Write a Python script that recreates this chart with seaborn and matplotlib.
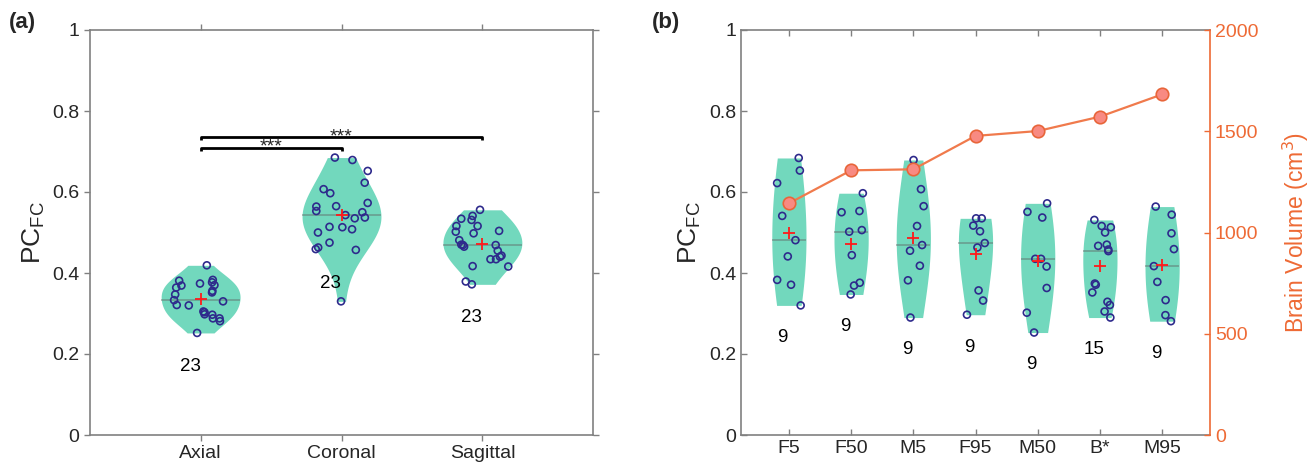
import numpy as np
import pandas as pd
import matplotlib
matplotlib.use("Agg")
import matplotlib.pyplot as plt
import seaborn as sns

# ---- data ----
views = ['Axial', 'Coronal', 'Sagittal']
axial = [0.419, 0.377, 0.374, 0.370, 0.364, 0.369, 0.381, 0.383, 0.356, 0.352, 0.347, 0.333,
         0.330, 0.321, 0.320, 0.305, 0.303, 0.298, 0.297, 0.288, 0.288, 0.281, 0.252]
coronal = [0.679, 0.685, 0.652, 0.623, 0.607, 0.597, 0.573, 0.564, 0.550, 0.565, 0.553, 0.535,
           0.537, 0.543, 0.514, 0.508, 0.513, 0.500, 0.475, 0.463, 0.459, 0.457, 0.330]
sagittal = [0.556, 0.531, 0.534, 0.541, 0.516, 0.516, 0.504, 0.502, 0.498, 0.470, 0.469, 0.481,
            0.469, 0.465, 0.455, 0.443, 0.440, 0.434, 0.434, 0.416, 0.417, 0.379, 0.372]
n_label_y_a = [0.17, 0.375, 0.29]

groups = ['F5', 'F50', 'M5', 'F95', 'M50', 'B*', 'M95']
f5 = [0.684, 0.653, 0.622, 0.541, 0.481, 0.441, 0.383, 0.371, 0.320]
f50 = [0.597, 0.553, 0.550, 0.502, 0.506, 0.444, 0.376, 0.369, 0.347]
m5 = [0.679, 0.607, 0.565, 0.516, 0.469, 0.455, 0.418, 0.382, 0.290]
f95 = [0.535, 0.535, 0.517, 0.503, 0.474, 0.463, 0.357, 0.332, 0.297]
m50 = [0.572, 0.551, 0.537, 0.435, 0.435, 0.416, 0.363, 0.302, 0.253]
bstar = [0.531, 0.516, 0.513, 0.500, 0.470, 0.467, 0.454, 0.458, 0.371, 0.374, 0.352,
         0.329, 0.321, 0.305, 0.290]
m95 = [0.564, 0.544, 0.498, 0.459, 0.417, 0.378, 0.333, 0.296, 0.281]
brain_volume = [1144, 1307, 1312, 1477, 1501, 1572, 1682]

df_a = pd.DataFrame({'view': np.repeat(views, [len(axial), len(coronal), len(sagittal)]),
                     'pc': axial + coronal + sagittal})
vals_b = [f5, f50, m5, f95, m50, bstar, m95]
df_b = pd.DataFrame({'group': np.repeat(groups, [len(v) for v in vals_b]),
                     'pc': sum(vals_b, [])})

# ---- style ----
sns.set_style('white')
plt.rcParams['font.family'] = ['Liberation Sans', 'DejaVu Sans']
teal = '#72d8bd'
navy = '#2e2a8c'
orange = '#ee6a35'
line_orange = '#f07a4c'
salmon = '#f88a82'
spine_gray = '#808080'
txt = '#262626'

fig = plt.figure(figsize=(13.16, 4.74), dpi=100)
ax_a = fig.add_axes([90 / 1316, 39 / 474, 503 / 1316, 405 / 474])
ax_b = fig.add_axes([741 / 1316, 39 / 474, 469 / 1316, 405 / 474])


def violin_panel(ax, df, xcol, order, width, bw):
    sns.violinplot(data=df, x=xcol, y='pc', order=order, cut=0, inner=None,
                   density_norm='width', width=width, color=teal, saturation=1,
                   linewidth=0, bw_adjust=bw, ax=ax)
    med = df.groupby(xcol)['pc'].median().reindex(order)
    for i, m in enumerate(med):
        ax.hlines(m, i - width / 2, i + width / 2, color='#606060', alpha=0.45, lw=1.3, zorder=3)
    n0 = len(ax.collections)
    sns.stripplot(data=df, x=xcol, y='pc', order=order, jitter=0.19, size=5,
                  color=navy, ax=ax, zorder=4)
    for c in ax.collections[n0:]:
        c.set_facecolor('none')
        c.set_edgecolor(navy)
        c.set_linewidth(1.2)
    sns.pointplot(data=df, x=xcol, y='pc', order=order, estimator='mean', errorbar=None,
                  markers='+', linestyles='none', color='#ff1a1a', markersize=9,
                  markeredgewidth=1.3, ax=ax, zorder=5)
    ax.set_xlabel('')
    ax.set_ylabel('PC$_{\\mathregular{FC}}$', fontsize=19, color=txt)
    ax.set_ylim(0, 1)
    ax.set_yticks(np.arange(0, 1.01, 0.2))
    ax.set_yticklabels(['0', '0.2', '0.4', '0.6', '0.8', '1'])
    for s in ax.spines.values():
        s.set_color(spine_gray)
        s.set_linewidth(1.2)
        s.set_visible(True)


# ---- panel (a) ----
violin_panel(ax_a, df_a, 'view', views, 0.56, 1.5)
ax_a.set_xlim(-0.785, 2.785)
ax_a.tick_params(direction='out', length=4, width=1, color=spine_gray, labelsize=14,
                 labelcolor=txt, top=True, right=True, bottom=True, left=True,
                 labeltop=False, labelright=False)
for i, v in enumerate([axial, coronal, sagittal]):
    ax_a.text(i - 0.075, n_label_y_a[i], str(len(v)), ha='center', va='center',
              fontsize=13.5, color='black')

# significance bars
for x2, y, sx in [(1, 0.709, 0.5), (2, 0.735, 1.0)]:
    ax_a.plot([0, 0, x2, x2], [y - 0.007, y, y, y - 0.007], color='black', lw=2,
              solid_capstyle='butt', zorder=6)
    ax_a.text(sx, y - 0.02, '***', ha='center', va='bottom', fontsize=14, color=txt)

# ---- panel (b) ----
violin_panel(ax_b, df_b, 'group', groups, 0.55, 1.7)
ax_b.set_xlim(-0.77, 6.77)
ax_b.spines['right'].set_visible(False)
ax_b.tick_params(direction='in', length=4, width=1, color=spine_gray, labelsize=14,
                 labelcolor=txt, top=True, right=False, bottom=True, left=True,
                 labeltop=False)
for i, v in enumerate(vals_b):
    ax_b.text(i - 0.1, min(v) - 0.08, str(len(v)), ha='center', va='center',
              fontsize=13.5, color='black')

ax2 = ax_b.twinx()
sns.lineplot(x=np.arange(len(groups)), y=brain_volume, color=line_orange, lw=1.6,
             marker='o', markersize=9, markerfacecolor=salmon, markeredgecolor='#e8653a',
             markeredgewidth=1.2, ax=ax2, zorder=6)
ax2.set_ylim(0, 2000)
ax2.set_yticks([0, 500, 1000, 1500, 2000])
ax2.set_ylabel('Brain Volume (cm$^3$)', fontsize=16.5, color=orange, labelpad=16)
ax2.tick_params(axis='y', direction='in', length=4, width=1, color=orange,
                labelsize=14, labelcolor=orange, right=True)
for name, s in ax2.spines.items():
    s.set_visible(name == 'right')
ax2.spines['right'].set_color(orange)
ax2.spines['right'].set_linewidth(1.2)
ax_b.set_xlim(-0.77, 6.77)

fig.text(0.007, 0.975, '(a)', fontsize=16, fontweight='bold', va='top')
fig.text(0.495, 0.975, '(b)', fontsize=16, fontweight='bold', va='top')

fig.savefig('out.png', dpi=100)
